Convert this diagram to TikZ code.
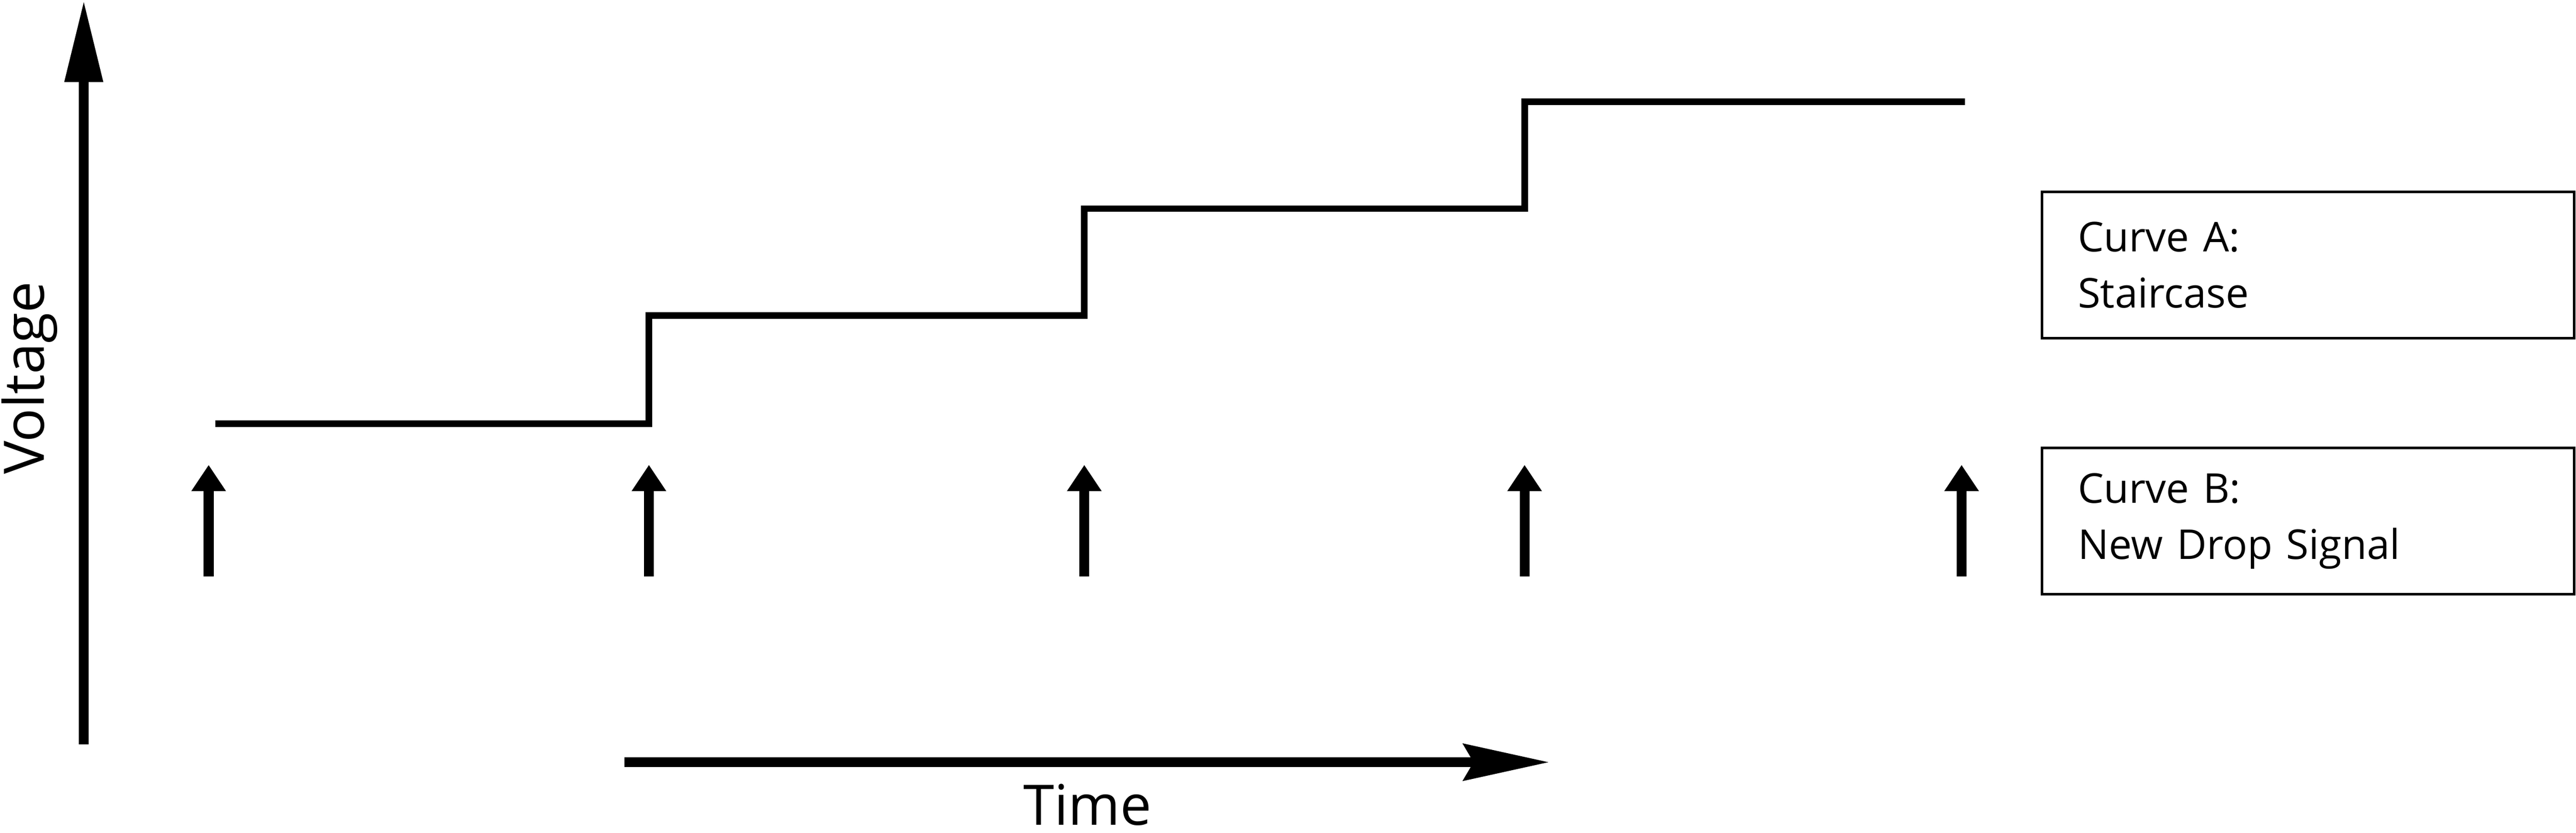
\documentclass[tikz,border=0pt]{standalone}
\usepackage{fontspec}
\setmainfont{Open Sans}
\usetikzlibrary{arrows.meta,positioning}
\tikzset{
  axis/.style={line width=3pt},
  stair/.style={line width=2pt},
  pulse/.style={line width=3pt,-{Triangle[length=8pt,width=10pt]}},
  legendbox/.style={draw,line width=0.8pt,minimum width=162pt,minimum height=44.5pt,anchor=north west,align=left,text width=140pt,font=\fontsize{12.5}{17}\selectfont},
}
\begin{document}
\begin{tikzpicture}[x=0.5pt,y=-0.5pt]
\useasboundingbox (0,0) rectangle (1568,507);

% axes
\coordinate (v0) at (51,453);
\coordinate (v1) at (51,0);
\draw[axis,-{Triangle[length=25pt,width=11pt]}] (v0) -- (v1);
\node[rotate=90,font=\fontsize{17}{20}\selectfont] (vlabel) at (18,230) {Voltage};

\coordinate (t0) at (380,464);
\coordinate (t1) at (943,464);
\draw[axis,-{Stealth[length=26pt,width=11pt,inset=3pt]}] (t0) -- (t1);
\node[font=\fontsize{17}{20}\selectfont,inner sep=0pt] (tlabel) at (662,490) {Time};

% curve A
\coordinate (s0) at (131,258);
\draw[stair] (s0) -- (395,258) -- (395,192) -- (660,192) -- (660,127)
  -- (928,127) -- (928,62) -- (1196,62);

% curve B
\foreach \x [count=\i] in {127,395,660,928,1194}{
  \coordinate (p\i a) at (\x,351);
  \coordinate (p\i b) at (\x,283);
  \draw[pulse] (p\i a) -- (p\i b);
}

% legend
\node[legendbox] (boxA) at (1242,116) {Curve A:\\Staircase};
\node[legendbox] (boxB) at (1242,272) {Curve B:\\New Drop Signal};
\end{tikzpicture}
\end{document}
